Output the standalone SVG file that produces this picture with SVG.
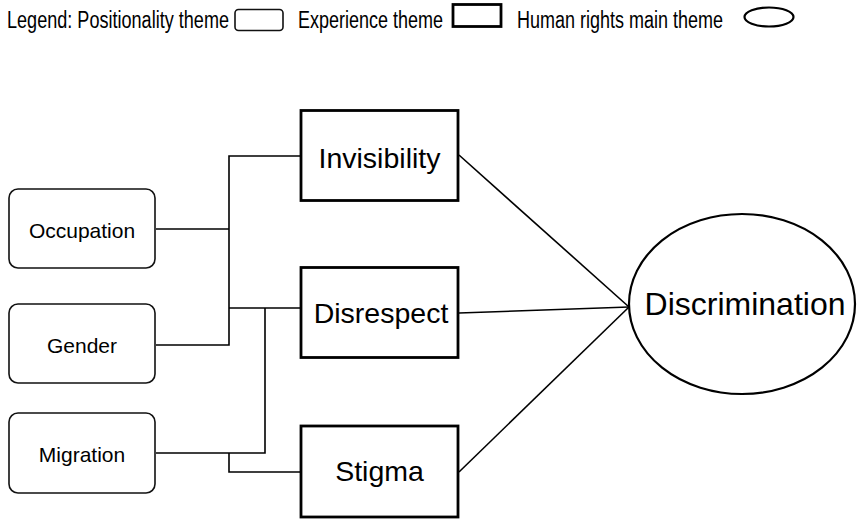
<svg xmlns="http://www.w3.org/2000/svg" width="857" height="523" viewBox="0 0 857 523">
<style>
text{font-family:"Liberation Sans",Arial,sans-serif;fill:#000}
.leg{font-size:23px}
.pos{fill:#fff;stroke:#111;stroke-width:1.6}
.exp{fill:#fff;stroke:#000;stroke-width:2.8}
.main{fill:#fff;stroke:#000;stroke-width:2.2}
.conn{fill:none;stroke:#000;stroke-width:1.6}
.t1{font-size:21px}
.t2{font-size:28.5px}
.t3{font-size:32px}
</style>
<rect width="857" height="523" fill="#fff"/>
<g id="legend">
<text class="leg" x="7" y="27.5" textLength="222" lengthAdjust="spacingAndGlyphs">Legend: Positionality theme</text>
<rect class="pos" x="235" y="9.5" width="48" height="21" rx="3.5" stroke-width="1.3"/>
<text class="leg" x="298" y="27.5" textLength="145" lengthAdjust="spacingAndGlyphs">Experience theme</text>
<rect class="exp" x="453" y="4.5" width="48" height="22" stroke-width="2.6"/>
<text class="leg" x="517" y="27.5" textLength="206" lengthAdjust="spacingAndGlyphs">Human rights main theme</text>
<ellipse class="main" cx="769" cy="17" rx="24.5" ry="9.5" stroke-width="2.4"/>
</g>
<g id="connectors">
<polyline class="conn" points="300,156 229,156 229,345 156,345"/>
<line class="conn" x1="156" y1="229" x2="229" y2="229"/>
<line class="conn" x1="229" y1="308" x2="300" y2="308"/>
<polyline class="conn" points="265,308 265,453 156,453"/>
<polyline class="conn" points="229,453 229,472 300,472"/>
<line class="conn" x1="459" y1="155" x2="629" y2="307"/>
<line class="conn" x1="459" y1="313" x2="629" y2="307"/>
<line class="conn" x1="459" y1="472" x2="629" y2="307"/>
</g>
<g id="occupation">
<rect class="pos" x="9" y="189" width="146" height="79" rx="9"/>
<text class="t1" x="82" y="238" text-anchor="middle">Occupation</text>
</g>
<g id="gender">
<rect class="pos" x="9" y="304" width="146" height="79" rx="9"/>
<text class="t1" x="82" y="353" text-anchor="middle">Gender</text>
</g>
<g id="migration">
<rect class="pos" x="9" y="413" width="146" height="80" rx="9"/>
<text class="t1" x="82" y="462" text-anchor="middle">Migration</text>
</g>
<g id="invisibility">
<rect class="exp" x="301" y="110.5" width="157" height="90"/>
<text class="t2" x="379.5" y="168" text-anchor="middle">Invisibility</text>
</g>
<g id="disrespect">
<rect class="exp" x="301" y="267.5" width="157" height="90"/>
<text class="t2" x="381" y="323" text-anchor="middle">Disrespect</text>
</g>
<g id="stigma">
<rect class="exp" x="301" y="426" width="157" height="91"/>
<text class="t2" x="379.5" y="481" text-anchor="middle">Stigma</text>
</g>
<g id="discrimination">
<ellipse class="main" cx="742" cy="304" rx="113" ry="90"/>
<text class="t3" x="745" y="315" text-anchor="middle">Discrimination</text>
</g>
</svg>
